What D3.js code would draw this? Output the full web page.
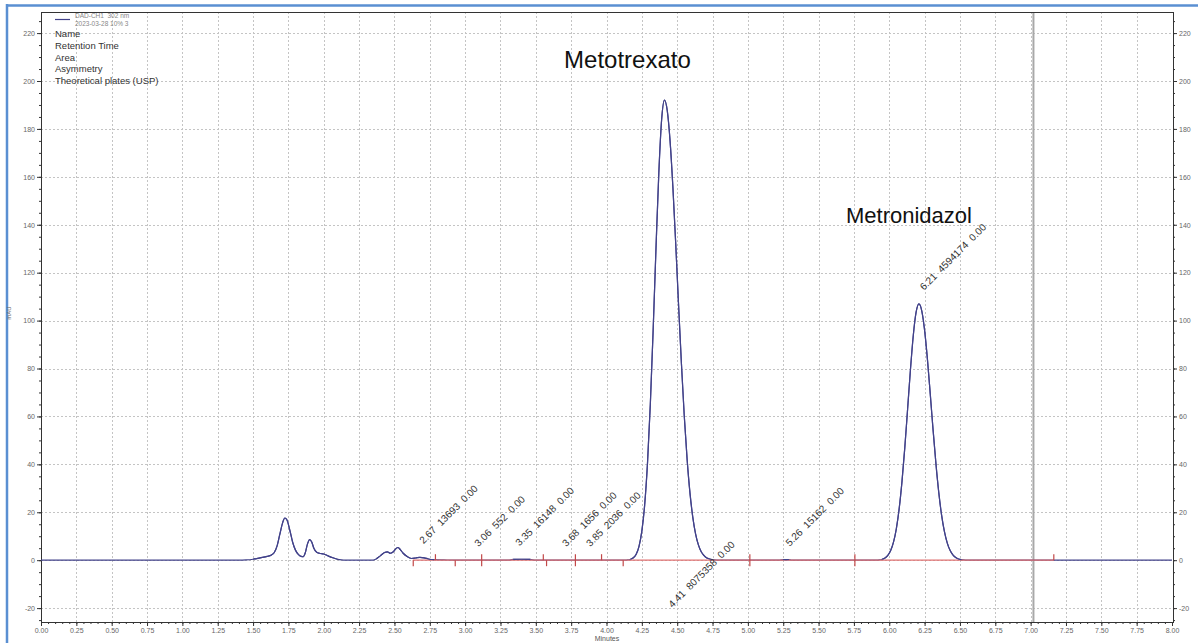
<!DOCTYPE html>
<html>
<head>
<meta charset="utf-8">
<script src="https://cdn.jsdelivr.net/npm/d3@7/dist/d3.min.js"></script>
<style>
  body { margin: 0; background: #fff; }
  svg { display: block; }
  text { font-family: "Liberation Sans", Arial, Helvetica, sans-serif; }
</style>
</head>
<body>
<svg id="chart" width="1198" height="643"></svg>
<script>
// DAD-CH1 302 nm trace: retention time (min) and signal (mAU)
const traceTime = [
  0.00, 1.40, 1.45, 1.50, 1.55, 1.60, 1.63, 1.65, 1.67, 1.69, 1.71, 1.725, 1.74, 1.76, 1.78, 1.80,
  1.82, 1.84, 1.855, 1.87, 1.885, 1.90, 1.915, 1.93, 1.95, 1.97, 2.00, 2.03, 2.07, 2.11, 2.14,
  2.35, 2.37, 2.40, 2.43, 2.45, 2.47, 2.49, 2.51, 2.525, 2.54, 2.56, 2.59, 2.62, 2.65, 2.68,
  2.71, 2.74, 2.78, 2.85, 2.95, 3.30, 3.34, 3.40, 3.46, 3.50,
  4.13, 4.15, 4.17, 4.19, 4.21, 4.23, 4.25, 4.27, 4.29, 4.31, 4.33, 4.35, 4.37, 4.39, 4.41,
  4.43, 4.45, 4.47, 4.49, 4.51, 4.53, 4.55, 4.57, 4.59, 4.61, 4.63, 4.65, 4.67, 4.69, 4.71, 4.73, 4.75, 4.78,
  5.22, 5.25, 5.29, 5.31,
  5.91, 5.93, 5.95, 5.97, 5.99, 6.01, 6.03, 6.05, 6.07, 6.09, 6.11, 6.13, 6.15, 6.17, 6.19, 6.21,
  6.23, 6.25, 6.27, 6.29, 6.31, 6.33, 6.35, 6.37, 6.39, 6.41, 6.43, 6.45, 6.47, 6.49, 6.51, 6.54,
  8.00
];
const traceSignal = [
  0, 0, 0.1, 0.4, 1.0, 1.6, 2.2, 3.2, 6, 11, 15.8, 17.6, 16.8, 12.5, 7.5, 4.2,
  2.4, 1.6, 1.5, 3.2, 6.8, 8.6, 7.6, 5, 3.3, 2.9, 2.6, 1.8, 0.9, 0.2, 0,
  0, 0.5, 1.8, 3.2, 3.5, 2.9, 3.4, 4.8, 5.3, 4.5, 3.0, 1.5, 0.7, 0.9, 1.2,
  1.0, 0.5, 0.2, 0.1, 0, 0, 0.3, 0.4, 0.3, 0,
  0, 0.1, 0.4, 1.0, 2.5, 5.8, 12.1, 23.1, 40.5, 65.1, 96.1, 130.1, 161.5, 183.9, 192,
  187.5, 174.7, 155.2, 131.6, 106.3, 82.0, 60.3, 42.3, 28.3, 18.1, 11.0, 6.4, 3.5, 1.9, 0.9, 0.5, 0.2, 0,
  0, 0.2, 0.2, 0,
  0, 0.1, 0.4, 0.9, 2.0, 4.0, 7.5, 13.1, 21.4, 32.8, 47.0, 63.2, 79.6, 93.8, 103.5, 107,
  104.1, 96.0, 83.9, 69.4, 54.4, 40.4, 28.4, 18.9, 12.0, 7.2, 4.1, 2.2, 1.1, 0.5, 0.2, 0,
  0
];

// Integration results (retention time, area, asymmetry)
const peakRT   = [2.67, 3.06, 3.35, 3.68, 3.85, 4.41, 5.26, 6.21];
const peakArea = [13693, 552, 16148, 1656, 2036, 8075358, 15162, 4594174];
const peakAsym = ["0.00", "0.00", "0.00", "0.00", "0.00", "0.00", "0.00", "0.00"];

// Peak start/end event marks: 1 = up, -1 = down, 0 = both
const eventTime = [2.633, 2.79, 2.93, 3.117, 3.553, 3.576, 3.78, 3.965, 4.118, 5.014, 5.757, 7.164];
const eventDir  = [-1, 1, -1, 0, 1, -1, 0, 1, -1, 0, 0, 1];

// Integration baseline span and cursor
const baselineSpan = [2.63, 7.164];
const cursorTime = 7.02;

// Compound names and their retention times
const compoundNames = ["Metotrexato", "Metronidazol"];
const compoundRT = [4.41, 6.21];

// Axis ticks
const xTicks = d3.range(0, 8.001, 0.25);
const xMinor = d3.range(0, 8.001, 0.05);
const yTicks = d3.range(-20, 221, 20);
const yMinor = d3.range(-25, 226, 5);

// Legend / report header
const legendSeries = ["DAD-CH1  302 nm", "2023-03-28 10% 3"];
const reportFields = ["Name", "Retention Time", "Area", "Asymmetry", "Theoretical plates (USP)"];

const svg = d3.select("#chart");
const W = 1198, H = 643;
const m = { left: 41, right: 1173, top: 12, bottom: 622 };

const x = d3.scaleLinear().domain([0, 8]).range([m.left, m.right - 1]);
const y = d3.scaleLinear().domain([-25.8, 228.8]).range([m.bottom, m.top]);

// page border
svg.append("line").attr("x1", 6).attr("x2", W).attr("y1", 5.5).attr("y2", 5.5)
  .attr("stroke", "#5a8fd2").attr("stroke-width", 2.5);
svg.append("line").attr("x1", 7).attr("x2", 7).attr("y1", 4).attr("y2", H)
  .attr("stroke", "#5a8fd2").attr("stroke-width", 2.5);

// grid
const grid = svg.append("g").attr("stroke", "#c4c4c4").attr("stroke-dasharray", "2,2").attr("stroke-width", 1);
grid.selectAll(".gx").data(xTicks.filter(t => t > 0 && t < 8)).join("line")
  .attr("x1", d => Math.round(x(d)) + 0.5).attr("x2", d => Math.round(x(d)) + 0.5)
  .attr("y1", m.top).attr("y2", m.bottom);
grid.selectAll(".gy").data(yTicks).join("line")
  .attr("y1", d => Math.round(y(d)) + 0.5).attr("y2", d => Math.round(y(d)) + 0.5)
  .attr("x1", m.left).attr("x2", m.right);

// cursor line
svg.append("line").attr("x1", x(cursorTime)).attr("x2", x(cursorTime))
  .attr("y1", m.top).attr("y2", m.bottom).attr("stroke", "#a8a8a8").attr("stroke-width", 2);

// axes
function styleAxis(g) {
  g.select(".domain").remove();
  g.selectAll(".tick line").attr("stroke", "#333");
  g.selectAll(".tick text").attr("fill", "#666").style("font-size", "7px");
}
const fmtY = d => String(d);
const fmtX = d3.format(".2f");

svg.append("g").attr("transform", `translate(${m.left},0)`)
  .call(d3.axisLeft(y).tickValues(yMinor).tickSize(2).tickFormat(""))
  .call(styleAxis);
svg.append("g").attr("transform", `translate(${m.left},0)`)
  .call(d3.axisLeft(y).tickValues(yTicks).tickSize(4).tickPadding(2).tickFormat(fmtY))
  .call(styleAxis);
svg.append("g").attr("transform", `translate(${m.right},0)`)
  .call(d3.axisRight(y).tickValues(yMinor).tickSize(2).tickFormat(""))
  .call(styleAxis);
svg.append("g").attr("transform", `translate(${m.right},0)`)
  .call(d3.axisRight(y).tickValues(yTicks).tickSize(4).tickPadding(2).tickFormat(fmtY))
  .call(styleAxis);
svg.append("g").attr("transform", `translate(0,${m.bottom})`)
  .call(d3.axisBottom(x).tickValues(xMinor).tickSize(2).tickFormat(""))
  .call(styleAxis);
svg.append("g").attr("transform", `translate(0,${m.bottom})`)
  .call(d3.axisBottom(x).tickValues(xTicks).tickSize(4).tickPadding(2).tickFormat(fmtX))
  .call(styleAxis);

// plot frame
svg.append("rect").attr("x", m.left + 0.5).attr("y", m.top + 0.5)
  .attr("width", m.right - m.left).attr("height", m.bottom - m.top)
  .attr("fill", "none").attr("stroke", "#333").attr("stroke-width", 1);

// axis titles
svg.append("text").attr("x", (m.left + m.right) / 2).attr("y", 641)
  .attr("text-anchor", "middle").attr("fill", "#555").style("font-size", "7px").text("Minutes");
svg.append("text").attr("transform", `translate(11,313) rotate(-90)`)
  .attr("text-anchor", "middle").attr("fill", "#666").style("font-size", "6px").text("mAU");

// trace
const pts = traceTime.map((t, i) => [t, traceSignal[i]]);
const line = d3.line().x(d => x(d[0])).y(d => y(d[1])).curve(d3.curveMonotoneX);
svg.append("path").datum(pts).attr("d", line)
  .attr("fill", "none").attr("stroke", "#42428a").attr("stroke-width", 1.2);

// integration baseline
svg.append("line").attr("x1", x(baselineSpan[0])).attr("x2", x(baselineSpan[1]))
  .attr("y1", y(0)).attr("y2", y(0)).attr("stroke", "#e07272").attr("stroke-width", 1.3);

// re-draw the signal where it rises above the baseline
svg.append("path").datum(pts).attr("d", d3.line().defined(d => d[1] > 0.15)
    .x(d => x(d[0])).y(d => y(d[1])).curve(d3.curveMonotoneX))
  .attr("fill", "none").attr("stroke", "#42428a").attr("stroke-width", 1.2);

// event marks
svg.append("g").selectAll("line").data(eventTime.map((t, i) => [t, eventDir[i]])).join("line")
  .attr("x1", d => x(d[0])).attr("x2", d => x(d[0]))
  .attr("y1", d => d[1] === -1 ? y(0) : y(0) - 6)
  .attr("y2", d => d[1] === 1 ? y(0) : y(0) + 6)
  .attr("stroke", "#c24848").attr("stroke-width", 1.2);

// peak annotations
const bis = d3.bisector(d => d).center;
function signalAt(t) { return traceSignal[bis(traceTime, t)]; }
const ann = svg.append("g").attr("fill", "#333").style("font-size", "10px");
peakRT.forEach((rt, i) => {
  const txt = `${rt.toFixed(2)}  ${peakArea[i]}  ${peakAsym[i]}`;
  const v = signalAt(rt);
  let ax, ay;
  if (v > 150) { // tall peak: annotation placed under the baseline
    ax = x(rt) + 8; ay = y(0) + 48;
  } else {
    ax = x(rt) + 5; ay = y(v) - 13;
  }
  ann.append("text").attr("transform", `translate(${ax},${ay}) rotate(-45)`)
    .attr("xml:space", "preserve").style("white-space", "pre").text(txt);
});

// compound names
const nameSize = [24, 22];
compoundNames.forEach((name, i) => {
  const rt = compoundRT[i];
  const v = signalAt(rt);
  svg.append("text").attr("x", x(rt) + (i === 0 ? -37 : -10))
    .attr("y", i === 0 ? y(v) - 32 : y(v) - 81)
    .attr("text-anchor", "middle").attr("fill", "#111")
    .style("font-size", nameSize[i] + "px").text(name);
});

// legend / report header
svg.append("line").attr("x1", 55).attr("x2", 70).attr("y1", 19.5).attr("y2", 19.5)
  .attr("stroke", "#42428a").attr("stroke-width", 1.2);
legendSeries.forEach((s, i) => {
  svg.append("text").attr("x", 75).attr("y", 18 + i * 8).attr("fill", "#888")
    .style("font-size", "6.5px").attr("xml:space", "preserve").style("white-space", "pre").text(s);
});
reportFields.forEach((s, i) => {
  svg.append("text").attr("x", 55).attr("y", 37 + i * 11.8).attr("fill", "#333")
    .style("font-size", "9.5px").text(s);
});
</script>
</body>
</html>
